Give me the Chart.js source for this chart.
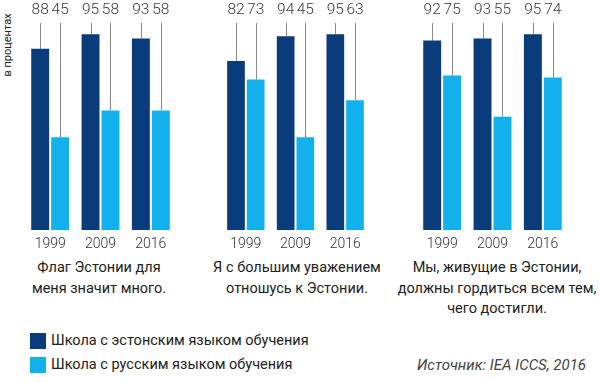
<!DOCTYPE html>
<html><head><meta charset="utf-8">
<script src="https://cdn.jsdelivr.net/npm/chart.js@4.4.0/dist/chart.umd.min.js"></script>
<style>
body{margin:0;width:600px;height:382px;background:#fff;position:relative;overflow:hidden;font-family:Roboto,"Noto Sans",sans-serif;}
canvas{position:absolute;top:0;}
.title{position:absolute;top:258px;text-align:center;font-size:14.5px;line-height:20.5px;color:#222;white-space:nowrap;transform:translateX(-50%);}
.ytitle{position:absolute;left:7px;top:45px;font-size:11px;color:#222;transform:translate(-50%,-50%) rotate(-90deg);white-space:nowrap;}
.leg{position:absolute;left:30px;font-size:14.5px;color:#222;display:flex;align-items:center;white-space:nowrap;}
.leg span{display:inline-block;width:16px;height:16px;margin-right:5px;}
.src{position:absolute;right:14px;top:356px;font-size:15px;font-style:italic;color:#444;}
</style></head>
<body>
<div class="ytitle" id="ytitle"></div>
<canvas id="c1" width="151" height="255" style="left:25px"></canvas>
<canvas id="c2" width="149" height="255" style="left:221px"></canvas>
<canvas id="c3" width="151" height="255" style="left:417px"></canvas>
<div class="title" id="t1" style="left:99px"></div>
<div class="title" id="t2" style="left:297px"></div>
<div class="title" id="t3" style="left:497px"></div>
<div class="leg" id="l1" style="top:332px"></div>
<div class="leg" id="l2" style="top:356px"></div>
<div class="src" id="src"></div>
<script>
const years = ['1999', '2009', '2016'];
const estonian1 = [88, 95, 93];
const russian1 = [45, 58, 58];
const estonian2 = [82, 94, 95];
const russian2 = [73, 45, 63];
const estonian3 = [92, 93, 95];
const russian3 = [75, 55, 74];
const titles = [
  ['Флаг Эстонии для', 'меня значит много.'],
  ['Я с большим уважением', 'отношусь к Эстонии.'],
  ['Мы, живущие в Эстонии,', 'должны гордиться всем тем,', 'чего достигли.']
];
const seriesNames = ['Школа с эстонским языком обучения', 'Школа с русским языком обучения'];
const yTitle = 'в процентах';
const sourceText = 'Источник: IEA ICCS, 2016';
const colors = ['#0a3b7b', '#12b0ec'];

document.getElementById('ytitle').textContent = yTitle;
document.getElementById('src').textContent = sourceText;
titles.forEach((t, i) => {
  const el = document.getElementById('t' + (i + 1));
  t.forEach((line, k) => { if (k) el.appendChild(document.createElement('br')); el.appendChild(document.createTextNode(line)); });
});
seriesNames.forEach((n, i) => {
  const el = document.getElementById('l' + (i + 1));
  const sw = document.createElement('span'); sw.style.background = colors[i];
  el.appendChild(sw); el.appendChild(document.createTextNode(n));
});

const valuePlugin = {
  id: 'vals',
  beforeDatasetsDraw(chart) {
    const ctx = chart.ctx;
    ctx.save();
    ctx.strokeStyle = '#8c8c8c';
    ctx.lineWidth = 1;
    chart.data.datasets.forEach((ds, i) => {
      chart.getDatasetMeta(i).data.forEach(bar => {
        const x = Math.round(bar.x) + 0.5;
        ctx.beginPath();
        ctx.moveTo(x, chart.chartArea.top - 1);
        ctx.lineTo(x, bar.y);
        ctx.stroke();
      });
    });
    ctx.restore();
  },
  afterDatasetsDraw(chart) {
    const ctx = chart.ctx;
    ctx.save();
    ctx.fillStyle = '#3a3a3a';
    ctx.font = '300 15.5px Roboto, "Noto Sans", sans-serif';
    ctx.textAlign = 'center';
    ctx.textBaseline = 'middle';
    chart.data.datasets.forEach((ds, i) => {
      chart.getDatasetMeta(i).data.forEach((bar, j) => {
        ctx.fillText(String(ds.data[j]), bar.x, 10);
      });
    });
    ctx.restore();
  }
};

function makeChart(id, est, rus) {
  new Chart(document.getElementById(id), {
    type: 'bar',
    data: {
      labels: years,
      datasets: [
        { label: seriesNames[0], data: est, backgroundColor: colors[0] },
        { label: seriesNames[1], data: rus, backgroundColor: colors[1] }
      ]
    },
    options: {
      responsive: false,
      animation: false,
      events: [],
      devicePixelRatio: 1,
      layout: { padding: { top: 24, left: 0, right: 0, bottom: 0 } },
      datasets: { bar: { categoryPercentage: 0.792, barPercentage: 0.9 } },
      plugins: { legend: { display: false }, tooltip: { enabled: false } },
      scales: {
        y: { display: false, min: 0, max: 100 },
        x: {
          grid: { display: false, drawTicks: false },
          border: { display: false },
          ticks: { padding: 6, color: '#333', font: { family: 'Roboto, "Noto Sans", sans-serif', size: 14, weight: '300' } },
          afterFit(s) { s.height = 25; }
        }
      }
    },
    plugins: [valuePlugin]
  });
}
makeChart('c1', estonian1, russian1);
makeChart('c2', estonian2, russian2);
makeChart('c3', estonian3, russian3);
</script>
</body></html>
